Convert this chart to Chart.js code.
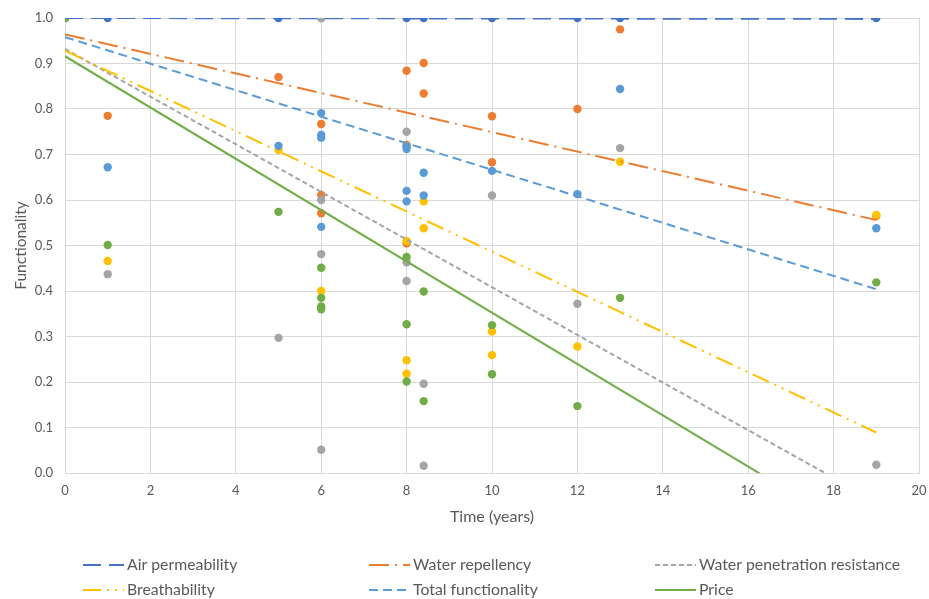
<!DOCTYPE html>
<html>
<head>
<meta charset="utf-8">
<script src="https://cdn.jsdelivr.net/npm/chart.js@4"></script>
<style>
  html, body { margin: 0; padding: 0; background: #ffffff; }
  #c { display: block; }
</style>
</head>
<body>
<canvas id="c" width="929" height="599"></canvas>
<script>
// ---- Data ----
const seriesNames = ["Air permeability", "Water repellency", "Water penetration resistance",
                     "Breathability", "Total functionality", "Price"];

const airX = [0, 1, 5, 6, 8, 8.4, 10, 12, 13, 19];
const airY = [1.0, 1.0, 1.0, 1.0, 1.0, 1.0, 1.0, 1.0, 1.0, 1.0];

const repX = [0, 1, 5, 6, 6, 6, 8, 8, 8, 8.4, 8.4, 10, 10, 12, 13, 19];
const repY = [1.0, 0.785, 0.870, 0.767, 0.611, 0.571, 0.884, 0.721, 0.505, 0.901, 0.834, 0.784, 0.683, 0.800, 0.975, 0.565];

const penX = [0, 1, 5, 6, 6, 6, 6, 8, 8, 8, 8.4, 8.4, 10, 12, 13, 19];
const penY = [1.0, 0.437, 0.297, 1.0, 0.600, 0.481, 0.051, 0.750, 0.463, 0.422, 0.196, 0.016, 0.610, 0.372, 0.714, 0.018];

const brX = [0, 1, 5, 6, 8, 8, 8, 8.4, 8.4, 10, 10, 12, 13, 19];
const brY = [1.0, 0.466, 0.710, 0.400, 0.510, 0.248, 0.218, 0.597, 0.538, 0.311, 0.259, 0.278, 0.684, 0.567];

const totX = [0, 1, 5, 6, 6, 6, 6, 8, 8, 8, 8, 8.4, 8.4, 10, 12, 13, 19];
const totY = [1.0, 0.672, 0.719, 0.791, 0.743, 0.737, 0.541, 0.717, 0.712, 0.620, 0.597, 0.660, 0.610, 0.664, 0.613, 0.844, 0.538];

const prX = [0, 1, 5, 6, 6, 6, 6, 8, 8, 8, 8.4, 8.4, 10, 10, 12, 13, 19];
const prY = [1.0, 0.501, 0.574, 0.451, 0.385, 0.366, 0.360, 0.475, 0.327, 0.201, 0.399, 0.158, 0.325, 0.217, 0.147, 0.385, 0.419];

// linear trendlines: value at trendStartX and trendEndX
const trendStartX = 0;
const trendEndX = 19;
const trendStart = [1.0, 0.964, 0.932, 0.928, 0.958, 0.916];
const trendEnd   = [0.998, 0.556, -0.063, 0.089, 0.404, -0.155];

const xTicksMin = 0, xTicksMax = 20, xStep = 2;
const yTicksMin = 0, yTicksMax = 1, yStep = 0.1;

// ---- Styles ----
const colors = ["#4472C4", "#ED7D31", "#A5A5A5", "#FFC000", "#5B9BD5", "#70AD47"];
const dashes = [[18, 8], [20, 6, 2, 6], [5, 3], [18, 6, 2, 6, 2, 6], [9, 5], []];
const FONT = "Lato, 'Liberation Sans', Arial, sans-serif";
const TEXT = "#595959";

const xsAll = [airX, repX, penX, brX, totX, prX];
const ysAll = [airY, repY, penY, brY, totY, prY];

const datasets = [];
// scatter markers (later series drawn on top)
seriesNames.forEach((name, i) => {
  datasets.push({
    label: name + " (data)",
    isTrend: false,
    data: xsAll[i].map((x, k) => ({ x: x, y: ysAll[i][k] })),
    showLine: false,
    pointRadius: 4.2,
    pointHoverRadius: 4.2,
    pointBorderWidth: 0,
    backgroundColor: colors[i],
    borderColor: colors[i],
    order: 20 - i
  });
});
// trendlines on top
seriesNames.forEach((name, i) => {
  datasets.push({
    label: name,
    isTrend: true,
    type: 'line',
    data: [{ x: trendStartX, y: trendStart[i] }, { x: trendEndX, y: trendEnd[i] }],
    borderColor: colors[i],
    backgroundColor: colors[i],
    borderWidth: 2,
    borderDash: dashes[i],
    pointRadius: 0,
    fill: false,
    order: 10 - i
  });
});

const legendPlugin = {
  id: 'gridLegend',
  afterDraw(chart) {
    const ctx = chart.ctx;
    const colX = [83, 369, 655];
    const rowY = [565, 590];
    const trends = chart.data.datasets.filter(d => d.isTrend);
    ctx.save();
    trends.forEach((d, i) => {
      const cx = colX[i % 3];
      const cy = rowY[Math.floor(i / 3)];
      ctx.beginPath();
      ctx.setLineDash(d.borderDash);
      ctx.strokeStyle = d.borderColor;
      ctx.lineWidth = 2;
      ctx.moveTo(cx, cy);
      ctx.lineTo(cx + 41, cy);
      ctx.stroke();
      ctx.setLineDash([]);
      ctx.fillStyle = TEXT;
      ctx.font = "15.8px " + FONT;
      ctx.textBaseline = "middle";
      ctx.textAlign = "left";
      ctx.fillText(d.label, cx + 44, cy);
    });
    ctx.restore();
  }
};

new Chart(document.getElementById('c'), {
  type: 'scatter',
  data: { datasets: datasets },
  options: {
    responsive: false,
    animation: false,
    events: [],
    layout: { padding: { top: 18, right: 10, bottom: 66, left: 0 } },
    plugins: { legend: { display: false }, tooltip: { enabled: false } },
    scales: {
      x: {
        type: 'linear',
        min: xTicksMin, max: xTicksMax,
        ticks: { stepSize: xStep, color: TEXT, font: { family: FONT, size: 13 }, padding: 10 },
        grid: { color: "#D9D9D9", lineWidth: 1, drawTicks: false },
        border: { color: "#D9D9D9", width: 1 },
        title: { display: true, text: "Time (years)", color: TEXT, font: { family: FONT, size: 16 }, padding: { top: 0, bottom: 7 } },
        afterFit: s => { s.height = 60; s.paddingLeft = 0; s.paddingRight = 0; }
      },
      y: {
        type: 'linear',
        min: yTicksMin, max: yTicksMax,
        ticks: { stepSize: yStep, color: TEXT, font: { family: FONT, size: 13 }, padding: 12,
                 callback: v => Number(v).toFixed(1) },
        grid: { color: "#D9D9D9", lineWidth: 1, drawTicks: false },
        border: { color: "#D9D9D9", width: 1 },
        title: { display: true, text: "Functionality", color: TEXT, font: { family: FONT, size: 15.5 }, padding: { top: 12, bottom: 0 } },
        afterFit: s => { s.width = 65; s.paddingTop = 0; s.paddingBottom = 0; }
      }
    }
  },
  plugins: [legendPlugin]
});
</script>
</body>
</html>
